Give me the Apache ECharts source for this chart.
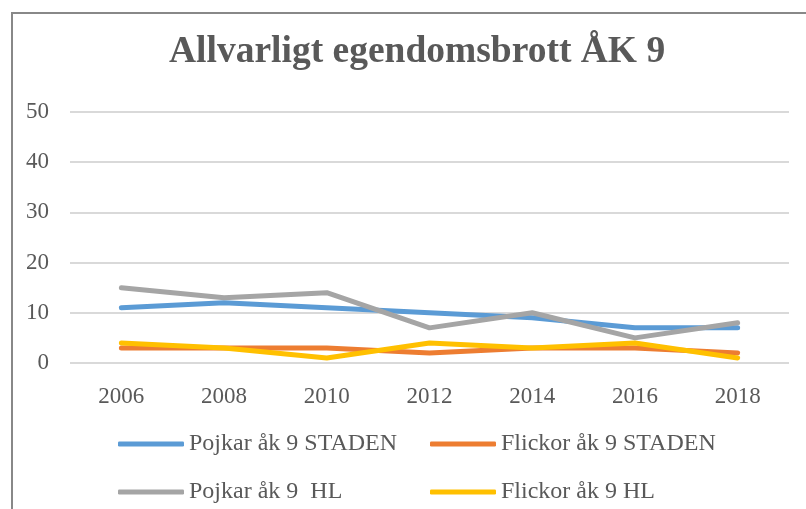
<!DOCTYPE html>
<html lang="sv">
<head>
    <meta charset="UTF-8">
    <title>Allvarligt egendomsbrott ÅK 9</title>
    <script type="text/javascript" src="https://cdn.jsdelivr.net/npm/echarts@6/dist/echarts.min.js"></script>
    <style>
        html, body { margin: 0; padding: 0; background: #fff; }
        #main { width: 806px; height: 509px; }
    </style>
</head>
<body>

<!-- diagramyta -->
<div id="main"></div>

<script type="text/javascript">
    // år på x-axeln
    var years = ["2006", "2008", "2010", "2012", "2014", "2016", "2018"];
    // serievärden
    var pojkarStaden = [11, 12, 11, 10, 9, 7, 7];
    var flickorStaden = [3, 3, 3, 2, 3, 3, 2];
    var pojkarHL = [15, 13, 14, 7, 10, 5, 8];
    var flickorHL = [4, 3, 1, 4, 3, 4, 1];
    // y-axelns steg
    var yMin = 0, yMax = 50, yStep = 10;

    var textFont = "Liberation Serif";
    var textColor = "#595959";

    function line(name, data, color) {
        return {
            name: name,
            type: "line",
            data: data,
            symbol: "none",
            lineStyle: { width: 5, color: color, cap: "round", join: "round" },
            itemStyle: { color: color }
        };
    }

    var legendText = { fontFamily: textFont, fontSize: 24, color: textColor };

    var option = {
        animation: false,
        backgroundColor: "#fff",
        title: {
            text: "Allvarligt egendomsbrott ÅK 9",
            left: 164,
            top: 28,
            textStyle: { fontFamily: textFont, fontSize: 37.5, fontWeight: "bold", color: textColor }
        },
        // ram runt diagrammet
        graphic: [{
            type: "rect",
            shape: { x: 12, y: 13, width: 820, height: 520 },
            style: { fill: "none", stroke: "#888", lineWidth: 2 },
            silent: true
        }],
        legend: [{
            orient: "vertical",
            left: 113,
            top: 427,
            itemWidth: 66,
            itemHeight: 5,
            itemGap: 24,
            icon: "roundRect",
            textStyle: legendText,
            data: ["Pojkar åk 9 STADEN", "Pojkar åk 9  HL"]
        }, {
            orient: "vertical",
            left: 425,
            top: 427,
            itemWidth: 66,
            itemHeight: 5,
            itemGap: 24,
            icon: "roundRect",
            textStyle: legendText,
            data: ["Flickor åk 9 STADEN", "Flickor åk 9 HL"]
        }],
        grid: { left: 70, right: 17, top: 112, bottom: 146 },
        xAxis: {
            type: "category",
            data: years,
            boundaryGap: true,
            axisLine: { show: false },
            axisTick: { show: false },
            axisLabel: { fontFamily: textFont, fontSize: 23, color: textColor, margin: 22 }
        },
        yAxis: {
            type: "value",
            min: yMin,
            max: yMax,
            interval: yStep,
            axisLine: { show: false },
            axisTick: { show: false },
            axisLabel: { fontFamily: textFont, fontSize: 23, color: textColor, margin: 21 },
            splitLine: { lineStyle: { color: "#d9d9d9", width: 2 } }
        },
        series: [
            line("Pojkar åk 9 STADEN", pojkarStaden, "#5b9bd5"),
            line("Flickor åk 9 STADEN", flickorStaden, "#ed7d31"),
            line("Pojkar åk 9  HL", pojkarHL, "#a5a5a5"),
            line("Flickor åk 9 HL", flickorHL, "#ffc000")
        ]
    };

    var myChart = echarts.init(document.getElementById("main"), null, { renderer: "canvas" });
    myChart.setOption(option);
</script>
</body>
</html>
